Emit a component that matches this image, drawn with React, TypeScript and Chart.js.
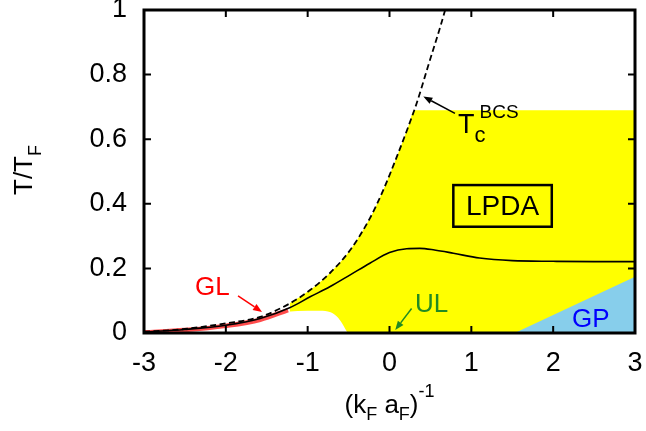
import React, { useEffect, useRef } from 'react';
import { Chart, registerables } from 'chart.js';
Chart.register(...registerables);

const FONT = '"Liberation Sans", Arial, Helvetica, sans-serif';

const xTickLabels = ['-3', '-2', '-1', '0', '1', '2', '3'];
const yTickLabels = ['0', '0.2', '0.4', '0.6', '0.8', '1'];

// LPDA critical temperature (solid)
const lpdaX = [-3, -2.5, -2, -1.58, -1.22, -0.97, -0.73, -0.48, -0.24, 0, 0.21, 0.37, 0.55, 0.78, 1.1, 1.5, 2, 2.5, 3];
const lpdaY = [0.003, 0.011, 0.024, 0.045, 0.078, 0.112, 0.143, 0.18, 0.216, 0.249, 0.261, 0.262, 0.257, 0.247, 0.232, 0.224, 0.222, 0.221, 0.221];

// Tc BCS (dashed)
const tcX = [-3, -2.56, -2, -1.58, -1.215, -0.97, -0.73, -0.48, -0.24, -0.075, 0.09, 0.23, 0.33, 0.47, 0.68, 0.75];
const tcY = [0.004, 0.011, 0.03, 0.05, 0.092, 0.133, 0.185, 0.257, 0.355, 0.443, 0.546, 0.639, 0.71, 0.825, 1.0, 1.07];

// GL band (red)
const glX = [-3, -2.5, -2, -1.58, -1.24];
const glY = [0.002, 0.009, 0.022, 0.041, 0.071];

// LPDA region (yellow) upper boundary
const yellowX = [-1.22, -0.97, -0.73, -0.48, -0.24, -0.075, 0.09, 0.23, 0.302, 3];
const yellowY = [0.092, 0.133, 0.185, 0.257, 0.355, 0.443, 0.546, 0.639, 0.69, 0.69];

// region excluded below (white)
const bumpX = [-1.25, -1.0, -0.85, -0.72, -0.64, -0.58, -0.54, -0.51];
const bumpY = [0.066, 0.069, 0.069, 0.064, 0.05, 0.03, 0.012, 0];

// GP region (blue)
const gpX = [1.53, 3];
const gpY = [0, 0.174];

const regionLabels = { gl: 'GL', ul: 'UL', gp: 'GP', lpda: 'LPDA' };

const zip = (xs: number[], ys: number[]) => xs.map((x, i) => ({ x, y: ys[i] }));

function arrow(ctx: CanvasRenderingContext2D, x1: number, y1: number, x2: number, y2: number, color: string) {
  ctx.save();
  ctx.strokeStyle = color;
  ctx.fillStyle = color;
  ctx.lineWidth = 1.5;
  const ang = Math.atan2(y2 - y1, x2 - x1);
  const hl = 9, hw = 3.5;
  const bx = x2 - hl * Math.cos(ang), by = y2 - hl * Math.sin(ang);
  ctx.beginPath();
  ctx.moveTo(x1, y1);
  ctx.lineTo(bx, by);
  ctx.stroke();
  ctx.beginPath();
  ctx.moveTo(x2, y2);
  ctx.lineTo(bx + hw * Math.sin(ang), by - hw * Math.cos(ang));
  ctx.lineTo(bx - hw * Math.sin(ang), by + hw * Math.cos(ang));
  ctx.closePath();
  ctx.fill();
  ctx.restore();
}

const framePlugin = {
  id: 'frame',
  afterDatasetsDraw(chart: any) {
    const { ctx, chartArea: a, scales } = chart;
    const xs = scales.x, ys = scales.y;
    const X = (v: number) => xs.getPixelForValue(v);
    const Y = (v: number) => ys.getPixelForValue(v);
    ctx.save();
    ctx.strokeStyle = '#000';
    ctx.lineWidth = 2;
    const tl = 7;
    xs.ticks.forEach((t: any) => {
      const px = X(t.value);
      ctx.beginPath();
      ctx.moveTo(px, a.bottom); ctx.lineTo(px, a.bottom - tl);
      ctx.moveTo(px, a.top); ctx.lineTo(px, a.top + tl);
      ctx.stroke();
    });
    ys.ticks.forEach((t: any) => {
      const py = Y(t.value);
      ctx.beginPath();
      ctx.moveTo(a.left, py); ctx.lineTo(a.left + tl, py);
      ctx.moveTo(a.right, py); ctx.lineTo(a.right - tl, py);
      ctx.stroke();
    });
    ctx.lineWidth = 3;
    ctx.strokeRect(a.left, a.top, a.right - a.left, a.bottom - a.top);

    ctx.textBaseline = 'alphabetic';
    ctx.textAlign = 'left';
    // Tc BCS label
    ctx.fillStyle = '#000';
    ctx.font = `27px ${FONT}`;
    const tx = X(0.837), ty = Y(0.619);
    ctx.fillText('T', tx, ty);
    const tw = ctx.measureText('T').width;
    ctx.font = `22px ${FONT}`;
    ctx.fillText('c', tx + tw, ty + 9);
    ctx.font = `19px ${FONT}`;
    ctx.fillText('BCS', tx + tw + 5, ty - 15);
    arrow(ctx, X(0.80), Y(0.68), X(0.413), Y(0.732), '#000');

    // LPDA box
    ctx.lineWidth = 2.5;
    ctx.strokeRect(X(0.78), Y(0.458), X(1.983) - X(0.78), Y(0.329) - Y(0.458));
    ctx.font = `28px ${FONT}`;
    ctx.textAlign = 'center';
    ctx.fillText(regionLabels.lpda, X(1.381), Y(0.365));
    ctx.textAlign = 'left';

    // GL
    ctx.font = `26px ${FONT}`;
    ctx.fillStyle = '#ff0000';
    ctx.fillText(regionLabels.gl, X(-2.377), Y(0.118));
    arrow(ctx, X(-1.851), Y(0.115), X(-1.558), Y(0.065), '#ff0000');

    // UL
    ctx.fillStyle = '#228b22';
    ctx.fillText(regionLabels.ul, X(0.312), Y(0.065));
    arrow(ctx, X(0.27), Y(0.076), X(0.07), Y(0.009), '#228b22');

    // GP
    ctx.fillStyle = '#0000ff';
    ctx.fillText(regionLabels.gp, X(2.23), Y(0.019));
    ctx.restore();
  },
  afterDraw(chart: any) {
    const { ctx, chartArea: a } = chart;
    ctx.save();
    ctx.fillStyle = '#000';
    ctx.textBaseline = 'alphabetic';
    ctx.textAlign = 'left';
    // x title: (k_F a_F)^-1
    const parts: [string, number, number][] = [
      ['(k', 26, 0], ['F', 18, 7], [' a', 26, 0], ['F', 18, 7], [')', 26, 0], ['-1', 18, -16],
    ];
    const widths = parts.map(([s, sz]) => { ctx.font = `${sz}px ${FONT}`; return ctx.measureText(s).width; });
    const total = widths.reduce((p, c) => p + c, 0);
    let cx = (a.left + a.right) / 2 - total / 2;
    const base = 413;
    parts.forEach(([s, sz, off], i) => {
      ctx.font = `${sz}px ${FONT}`;
      ctx.fillText(s, cx, base + off);
      cx += widths[i];
    });
    // y title: T/T_F rotated
    ctx.translate(32, 170);
    ctx.rotate(-Math.PI / 2);
    ctx.font = `26px ${FONT}`;
    const w1 = ctx.measureText('T/T').width;
    ctx.font = `18px ${FONT}`;
    const w2 = ctx.measureText('F').width;
    const start = -(w1 + w2) / 2;
    ctx.font = `26px ${FONT}`;
    ctx.fillText('T/T', start, 0);
    ctx.font = `18px ${FONT}`;
    ctx.fillText('F', start + w1, 9);
    ctx.restore();
  },
};

export default function App() {
  const ref = useRef<HTMLCanvasElement | null>(null);
  useEffect(() => {
    if (!ref.current) return;
    const line = { showLine: true, pointRadius: 0, pointHoverRadius: 0, cubicInterpolationMode: 'monotone' as const };
    const chart = new Chart(ref.current, {
      type: 'scatter',
      data: {
        datasets: [
          { ...line, label: 'LPDA', data: zip(lpdaX, lpdaY), borderColor: '#000', borderWidth: 1.6, fill: false, order: 1 },
          { ...line, label: 'Tc BCS', data: zip(tcX, tcY), borderColor: '#000', borderWidth: 1.8, borderDash: [6, 3.5], fill: false, order: 2 },
          { ...line, label: 'GL', data: zip(glX, glY), borderColor: 'rgba(255,45,45,0.85)', borderWidth: 4.5, fill: false, order: 3 },
          { ...line, label: 'unstable', data: zip(bumpX, bumpY), borderWidth: 0, borderColor: 'rgba(0,0,0,0)', backgroundColor: '#ffffff', fill: 'origin', order: 8 },
          { ...line, label: 'GP', data: zip(gpX, gpY), borderWidth: 0, borderColor: 'rgba(0,0,0,0)', backgroundColor: '#87ceeb', fill: 'origin', order: 9, cubicInterpolationMode: 'default', tension: 0 },
          { ...line, label: 'LPDA region', data: zip(yellowX, yellowY), borderWidth: 0, borderColor: 'rgba(0,0,0,0)', backgroundColor: '#ffff00', fill: 'origin', order: 10 },
        ],
      },
      options: {
        animation: false,
        responsive: false,
        events: [],
        layout: { padding: { top: 10, right: 11, left: 0, bottom: 0 } },
        plugins: { legend: { display: false }, tooltip: { enabled: false } },
        scales: {
          x: {
            type: 'linear',
            min: -3,
            max: 3,
            grid: { display: false, drawTicks: false },
            border: { display: false },
            ticks: {
              stepSize: 1,
              padding: 14,
              color: '#000',
              font: { family: FONT, size: 27 },
              maxRotation: 0,
              callback: (v: any) => xTickLabels[Math.round(Number(v) + 3)],
            },
            afterFit: (s: any) => { s.height = 98; s.paddingLeft = 0; s.paddingRight = 0; },
          },
          y: {
            type: 'linear',
            min: 0,
            max: 1,
            grid: { display: false, drawTicks: false },
            border: { display: false },
            ticks: {
              stepSize: 0.2,
              padding: 17,
              color: '#000',
              font: { family: FONT, size: 27 },
              callback: (v: any) => yTickLabels[Math.round(Number(v) / 0.2)],
            },
            afterFit: (s: any) => { s.width = 144; s.paddingTop = 0; s.paddingBottom = 0; },
          },
        },
      },
      plugins: [framePlugin],
    });
    return () => chart.destroy();
  }, []);
  return (
    <div style={{ position: 'fixed', left: 0, top: 0, width: 646, height: 431, background: '#fff' }}>
      <canvas ref={ref} width={646} height={431} style={{ display: 'block' }} />
    </div>
  );
}
